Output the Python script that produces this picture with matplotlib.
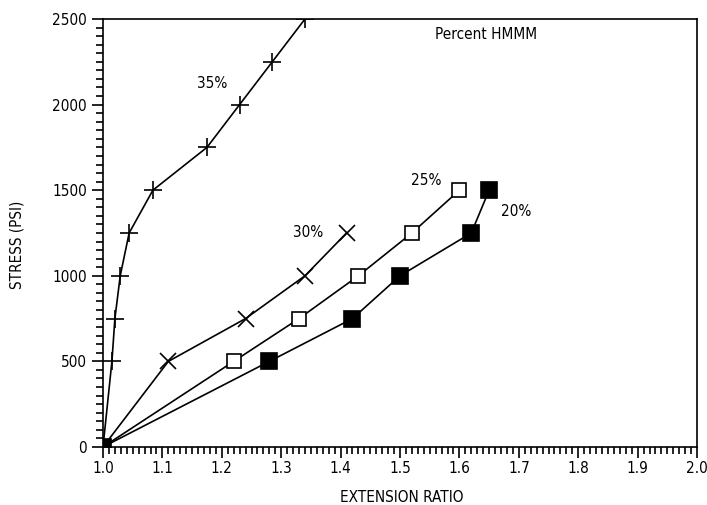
import numpy as np
import matplotlib
matplotlib.use('Agg')
import matplotlib.pyplot as plt
from matplotlib.ticker import MultipleLocator, FormatStrFormatter

plt.rcParams['font.family'] = ['DejaVu Sans']
plt.rcParams['font.stretch'] = 'condensed'

# stress levels (psi)
stress = [0, 500, 750, 1000, 1250, 1500, 1750, 2000, 2250, 2500]

# extension ratio for each percent HMMM
ext35 = [1.0, 1.015, 1.02, 1.029, 1.044, 1.084, 1.175, 1.23, 1.285, 1.34]
ext30 = [1.0, 1.11, 1.24, 1.34, 1.41]
ext25 = [1.0, 1.22, 1.33, 1.43, 1.52, 1.60]
ext20 = [1.0, 1.28, 1.42, 1.50, 1.62, 1.65]

labels = ['35%', '30%', '25%', '20%']
label_pos = [(1.184, 2126), (1.345, 1250), (1.544, 1554), (1.695, 1378)]

fig = plt.figure(figsize=(7.07, 5.05), dpi=100)
ax = fig.add_axes([0.1457, 0.1149, 0.8402, 0.8475])

ax.plot(ext35, stress[:len(ext35)], 'k-', marker='+', ms=13, mew=1.2, lw=1.2)
ax.plot(ext30, stress[:len(ext30)], 'k-', marker='x', ms=11, mew=1.2, lw=1.2)
ax.plot(ext25, stress[:len(ext25)], 'k-', marker='s', ms=10, mfc='white', mew=1.2, lw=1.2)
ax.plot(ext20, stress[:len(ext20)], 'k-', marker='s', ms=11, mfc='black', mew=1.2, lw=1.2)

for lab, (x, y) in zip(labels, label_pos):
    ax.text(x, y, lab, fontsize=11, ha='center', va='center')
ax.text(1.645, 2407, 'Percent HMMM', fontsize=11, ha='center', va='center')

ax.set_xlim(1.0, 2.0)
ax.set_ylim(0, 2500)
ax.xaxis.set_major_locator(MultipleLocator(0.1))
ax.xaxis.set_minor_locator(MultipleLocator(0.01))
ax.xaxis.set_major_formatter(FormatStrFormatter('%.1f'))
ax.yaxis.set_major_locator(MultipleLocator(500))
ax.yaxis.set_minor_locator(MultipleLocator(50))
ax.tick_params(which='major', direction='out', length=8, width=1.2, labelsize=11)
ax.tick_params(axis='x', which='major', pad=2)
ax.tick_params(which='minor', direction='out', length=5, width=1.2)
for s in ax.spines.values():
    s.set_linewidth(1.2)

ax.set_xlabel('EXTENSION RATIO', fontsize=11)
ax.xaxis.set_label_coords(0.503, -0.1)
ax.set_ylabel('STRESS (PSI)', fontsize=11)
ax.yaxis.set_label_coords(-0.132, 0.472)

plt.savefig('out.png', dpi=100)
